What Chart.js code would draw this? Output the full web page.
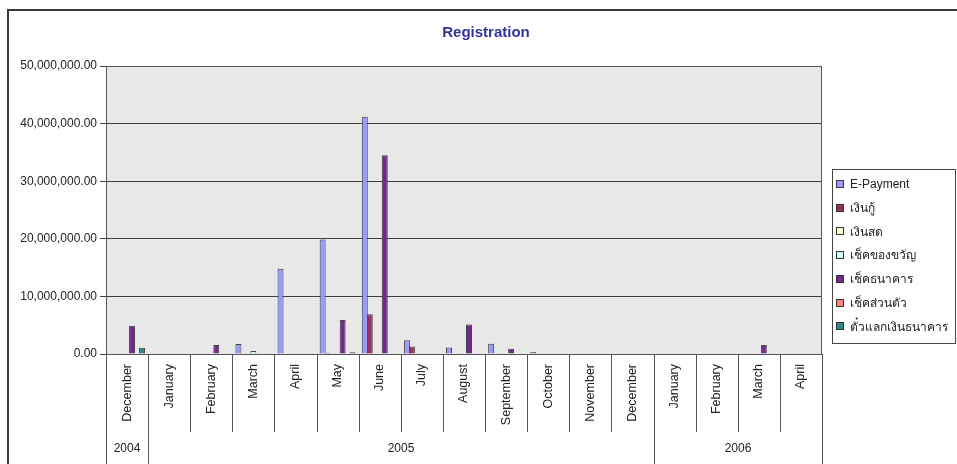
<!DOCTYPE html>
<html>
<head>
<meta charset="utf-8">
<script src="https://cdn.jsdelivr.net/npm/chart.js@4.4.1/dist/chart.umd.min.js"></script>
<style>
body { margin: 0; background: #fff; }
#wrap { width: 957px; height: 464px; }
</style>
</head>
<body>
<div id="wrap"><canvas id="regChart" width="957" height="464"></canvas></div>
<script>
const months = ['December', 'January', 'February', 'March', 'April', 'May', 'June', 'July',
    'August', 'September', 'October', 'November', 'December', 'January', 'February', 'March', 'April'];
const yearLabels = ['2004', '2005', '2006'];
const yearSpans = [1, 12, 4];

const ePayment      = [0, 0, 0, 1750000, 14800000, 19900000, 41200000, 2400000, 1150000, 1800000, 350000, 100000, 0, 0, 0, 0, 0];
const loan          = [0, 0, 0, 0, 0, 200000, 6900000, 1300000, 0, 0, 0, 0, 0, 0, 0, 0, 0];
const cash          = [0, 0, 0, 0, 0, 0, 0, 0, 0, 0, 0, 0, 0, 0, 0, 0, 0];
const giftCheque    = [0, 0, 0, 500000, 0, 0, 0, 0, 0, 0, 0, 0, 0, 0, 0, 0, 0];
const bankCheque    = [4900000, 0, 1550000, 0, 0, 5900000, 34500000, 150000, 5100000, 900000, 0, 0, 0, 0, 0, 1550000, 0];
const personalCheque = [0, 0, 0, 0, 0, 0, 0, 0, 0, 0, 0, 0, 0, 0, 0, 0, 0];
const bankDraft     = [1100000, 0, 0, 0, 0, 300000, 0, 0, 0, 0, 0, 0, 0, 0, 0, 0, 0];

const seriesNames = ['E-Payment', 'เงินกู้', 'เงินสด', 'เช็คของขวัญ', 'เช็คธนาคาร', 'เช็คส่วนตัว', 'ตั๋วแลกเงินธนาคาร'];
const seriesColors = ['#9999ff', '#993366', '#ffffcc', '#ccffff', '#74288c', '#ff8080', '#2a8a86'];
const seriesData = [ePayment, loan, cash, giftCheque, bankCheque, personalCheque, bankDraft];

const FONT = "'Liberation Sans', Arial, 'Noto Sans', 'DejaVu Sans', sans-serif";
const TEXT = '#222';

// plot background, borders, two-row category axis, legend and title
const decorations = {
    id: 'decorations',
    beforeDraw(chart) {
        const {ctx, chartArea: a} = chart;
        ctx.save();
        ctx.fillStyle = '#fff';
        ctx.fillRect(0, 0, chart.width, chart.height);
        ctx.fillStyle = '#e8e8e8';
        ctx.fillRect(a.left, a.top, a.right - a.left, a.bottom - a.top);
        ctx.restore();
    },
    afterDraw(chart) {
        const {ctx, chartArea: a} = chart;
        const x = chart.scales.x;
        ctx.save();

        // plot frame
        ctx.strokeStyle = '#555';
        ctx.lineWidth = 1;
        ctx.strokeRect(a.left + 0.5, a.top + 0.5, a.right - a.left - 1, a.bottom - a.top);

        // category separators
        const monthRowBottom = a.bottom + 78;
        const yearStarts = [];
        let acc = 0;
        yearSpans.forEach(s => { yearStarts.push(acc); acc += s; });
        const edge = i => {
            if (i <= 0) return a.left;
            if (i >= months.length) return a.right;
            return Math.round((x.getPixelForValue(i - 1) + x.getPixelForValue(i)) / 2);
        };
        ctx.strokeStyle = '#555';
        for (let i = 0; i <= months.length; i++) {
            const full = i === months.length || yearStarts.includes(i);
            const px = Math.round(edge(i)) + 0.5;
            ctx.beginPath();
            ctx.moveTo(px, a.bottom);
            ctx.lineTo(px, full ? chart.height : monthRowBottom);
            ctx.stroke();
        }

        // year row
        ctx.fillStyle = TEXT;
        ctx.font = '12px ' + FONT;
        ctx.textAlign = 'center';
        ctx.textBaseline = 'middle';
        yearLabels.forEach((label, k) => {
            const l = edge(yearStarts[k]);
            const r = edge(yearStarts[k] + yearSpans[k]);
            ctx.fillText(label, (l + r) / 2, 449);
        });

        // legend
        const lx = 832, ly = 169, lw = 123, lh = 174;
        ctx.strokeStyle = '#444';
        ctx.strokeRect(lx + 0.5, ly + 0.5, lw, lh);
        ctx.textAlign = 'left';
        chart.data.datasets.forEach((ds, i) => {
            const cy = 184 + i * 23.7;
            ctx.fillStyle = ds.backgroundColor;
            ctx.fillRect(836, Math.round(cy) - 4, 8, 8);
            ctx.strokeStyle = '#333';
            ctx.strokeRect(836.5, Math.round(cy) - 3.5, 7, 7);
            ctx.fillStyle = TEXT;
            ctx.fillText(ds.label, 850, cy + 1);
        });

        // title
        ctx.fillStyle = '#333399';
        ctx.font = 'bold 15px ' + FONT;
        ctx.textAlign = 'center';
        ctx.fillText('Registration', 486, 33);

        // outer frame
        ctx.strokeStyle = '#3a3a3a';
        ctx.lineWidth = 2;
        ctx.beginPath();
        ctx.moveTo(8, chart.height + 2);
        ctx.lineTo(8, 10);
        ctx.lineTo(chart.width + 2, 10);
        ctx.stroke();
        ctx.restore();
    }
};

new Chart(document.getElementById('regChart'), {
    type: 'bar',
    data: {
        labels: months,
        datasets: seriesNames.map((name, i) => ({
            label: name,
            data: seriesData[i],
            backgroundColor: seriesColors[i],
            borderColor: '#444',
            borderWidth: 1,
            categoryPercentage: 0.83,
            barPercentage: 1.2
        }))
    },
    options: {
        responsive: false,
        animation: false,
        devicePixelRatio: 1,
        layout: { padding: { top: 66, left: 16, right: 135, bottom: 0 } },
        plugins: {
            legend: { display: false },
            tooltip: { enabled: false }
        },
        scales: {
            x: {
                grid: { display: false, drawTicks: false },
                border: { display: false },
                ticks: {
                    autoSkip: false,
                    minRotation: 90,
                    maxRotation: 90,
                    padding: 10,
                    color: TEXT,
                    font: { family: FONT, size: 12.5 }
                },
                afterFit(scale) { scale.height = 110; }
            },
            y: {
                min: 0,
                max: 50000000,
                ticks: {
                    stepSize: 10000000,
                    padding: 3,
                    color: TEXT,
                    font: { family: FONT, size: 12 },
                    callback: v => v.toLocaleString('en-US', { minimumFractionDigits: 2, maximumFractionDigits: 2 })
                },
                grid: { color: '#404040', lineWidth: 1, tickLength: 6 },
                border: { display: false },
                afterFit(scale) { scale.width = 90; }
            }
        }
    },
    plugins: [decorations]
});
</script>
</body>
</html>
